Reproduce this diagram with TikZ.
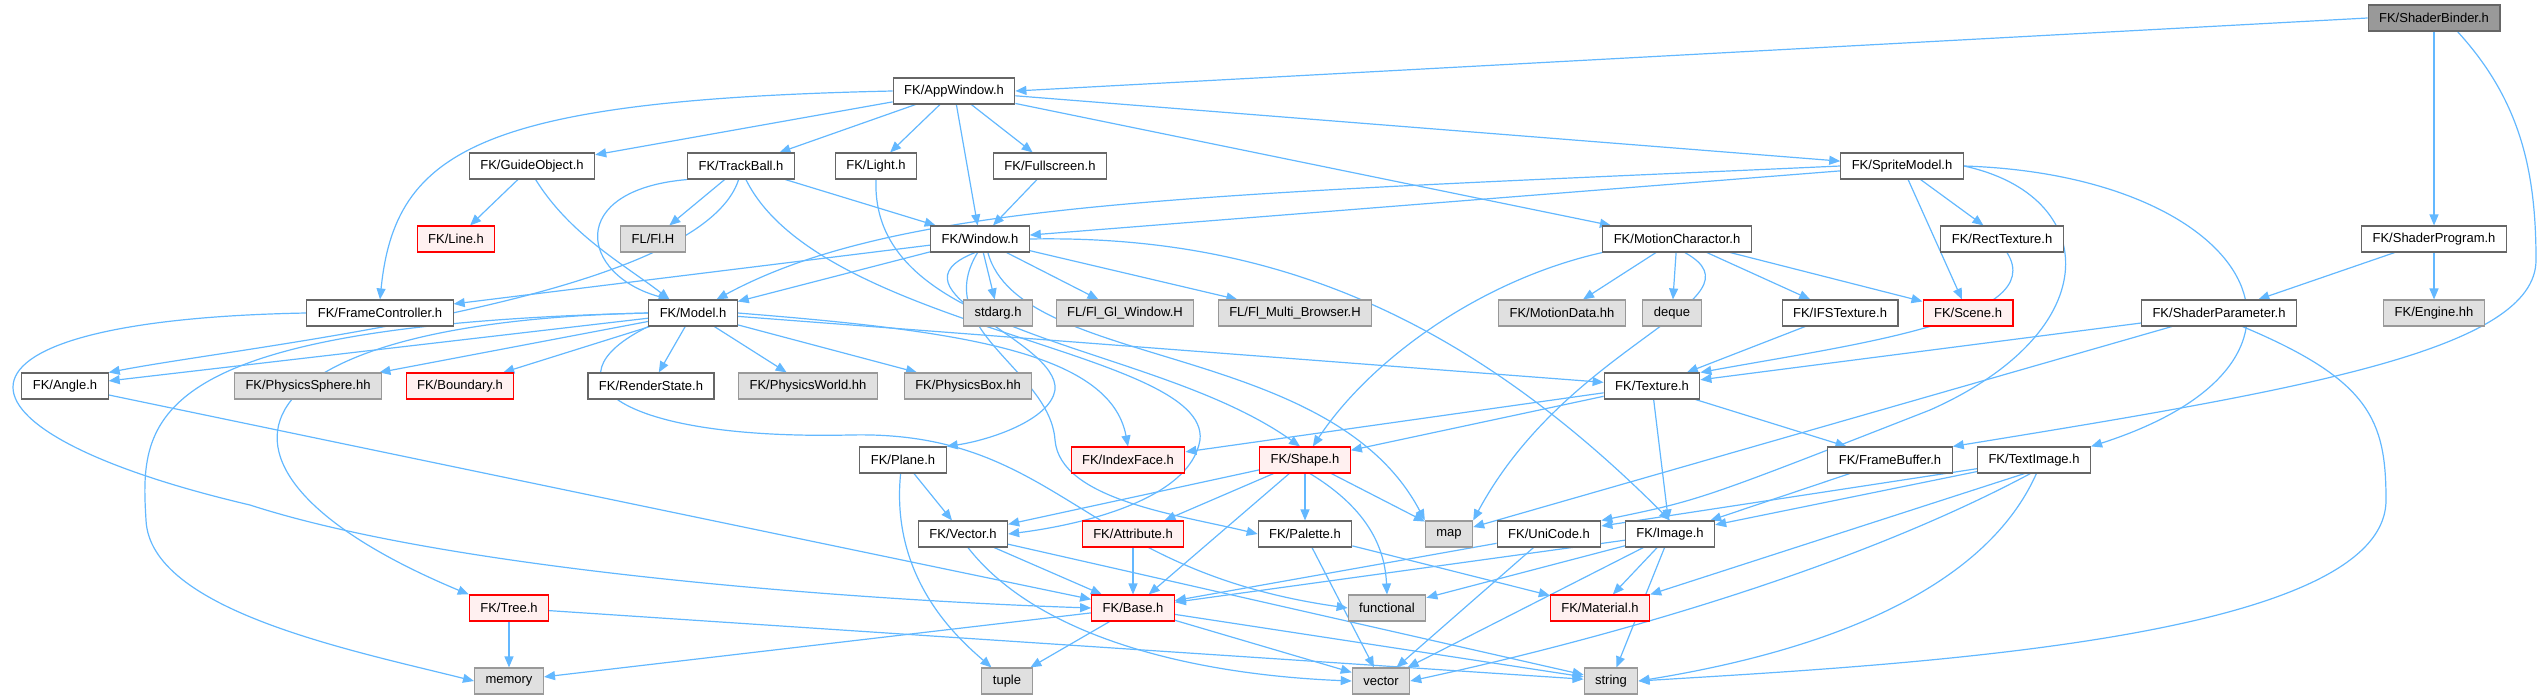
\documentclass[tikz,border=0pt]{standalone}
\usepackage{fontspec}
\setmainfont{Liberation Sans}
\usepackage{xcolor}
\usepackage{tikz}
\usetikzlibrary{arrows.meta}
\definecolor{edgeblue}{HTML}{63B8FF}
\definecolor{boxgrey}{HTML}{666666}
\definecolor{sysdraw}{HTML}{999999}
\definecolor{sysfill}{HTML}{E0E0E0}
\definecolor{nodocfill}{HTML}{FFF0F0}
\definecolor{rootfill}{HTML}{999999}
\pgfdeclarelayer{background}
\pgfsetlayers{background,main}
\begin{document}
\begin{tikzpicture}[x=1pt,y=-1pt]
\useasboundingbox (0,0) rectangle (2543,699);
\tikzstyle{every node}+=[inner xsep=11pt, inner ysep=0pt, minimum height=26pt, line width=1.1pt, font=\fontsize{13}{15}\selectfont]
\tikzstyle{file}=[draw=boxgrey, fill=white]
\tikzstyle{sysfile}=[draw=sysdraw, fill=sysfill]
\tikzstyle{nodoc}=[draw=red, fill=nodocfill]
\tikzstyle{rootfile}=[draw=boxgrey, fill=rootfill]
\tikzstyle{inc}=[draw=edgeblue, line width=1.2pt, -{Triangle[length=11pt,width=9pt]}]
% row 1 and 2
\node [rootfile] (root) at (2434,18) {FK/ShaderBinder.h};
\node [file] (appwin) at (954,91) {FK/AppWindow.h};
% row 3
\node [file] (guide) at (532,166) {FK/GuideObject.h};
\node [file] (track) at (741,166) {FK/TrackBall.h};
\node [file] (light) at (876,166) {FK/Light.h};
\node [file] (fullscr) at (1050,166) {FK/Fullscreen.h};
\node [file] (sprite) at (1902,166) {FK/SpriteModel.h};
% row 4
\node [nodoc] (line) at (456,239) {FK/Line.h};
\node [sysfile] (flh) at (653,239) {FL/Fl.H};
\node [file] (window) at (980,239) {FK/Window.h};
\node [file] (motion) at (1677,239) {FK/MotionCharactor.h};
\node [file] (recttex) at (2002,239) {FK/RectTexture.h};
\node [file] (shprog) at (2434,239) {FK/ShaderProgram.h};
% row 5
\node [file] (framectl) at (380,313) {FK/FrameController.h};
\node [file] (model) at (693,313) {FK/Model.h};
\node [sysfile] (stdarg) at (998,313) {stdarg.h};
\node [sysfile] (glwin) at (1125,313) {FL/Fl\_Gl\_Window.H};
\node [sysfile] (multibr) at (1295,313) {FL/Fl\_Multi\_Browser.H};
\node [sysfile] (motiondata) at (1562,313) {FK/MotionData.hh};
\node [sysfile] (deque) at (1672,313) {deque};
\node [file] (ifstex) at (1840,313) {FK/IFSTexture.h};
\node [nodoc] (scene) at (1968,313) {FK/Scene.h};
\node [file] (shparam) at (2219,313) {FK/ShaderParameter.h};
\node [sysfile] (engine) at (2434,313) {FK/Engine.hh};
% row 6
\node [file] (angle) at (65,386) {FK/Angle.h};
\node [sysfile] (physsphere) at (308,386) {FK/PhysicsSphere.hh};
\node [nodoc] (boundary) at (460,386) {FK/Boundary.h};
\node [file] (renderstate) at (651,386) {FK/RenderState.h};
\node [sysfile] (physworld) at (808,386) {FK/PhysicsWorld.hh};
\node [sysfile] (physbox) at (968,386) {FK/PhysicsBox.hh};
\node [file] (texture) at (1652,386) {FK/Texture.h};
% row 7
\node [file] (plane) at (903,460) {FK/Plane.h};
\node [nodoc] (indexface) at (1128,460) {FK/IndexFace.h};
\node [nodoc] (shape) at (1305,460) {FK/Shape.h};
\node [file] (framebuf) at (1890,460) {FK/FrameBuffer.h};
\node [file] (textimage) at (2034,460) {FK/TextImage.h};
% row 8
\node [file] (vector) at (963,534) {FK/Vector.h};
\node [nodoc] (attribute) at (1133,534) {FK/Attribute.h};
\node [file] (palette) at (1305,534) {FK/Palette.h};
\node [sysfile] (map) at (1449,534) {map};
\node [file] (unicode) at (1549,534) {FK/UniCode.h};
\node [file] (image) at (1670,534) {FK/Image.h};
% row 9
\node [nodoc] (tree) at (509,608) {FK/Tree.h};
\node [nodoc] (base) at (1133,608) {FK/Base.h};
\node [sysfile] (functional) at (1387,608) {functional};
\node [nodoc] (material) at (1600,608) {FK/Material.h};
% row 10
\node [sysfile] (memory) at (509,681) {memory};
\node [sysfile] (tuple) at (1007,681) {tuple};
\node [sysfile] (vectorstd) at (1381,681) {vector};
\node [sysfile] (string) at (1611,681) {string};
\begin{pgfonlayer}{background}
% ShaderBinder
\draw [inc] (root.west) -- (appwin.east);
\draw [inc] (root) -- (shprog);
\draw [inc] (root.-30) .. controls (2520,100) and (2536,170) .. (2536,260) .. controls (2536,350) and (2300,390) .. (framebuf.north east);
% AppWindow
\draw [inc] (appwin.west) .. controls (480,100) and (395,150) .. (framectl.north);
\draw [inc] (appwin) -- (guide);
\draw [inc] (appwin) -- (track);
\draw [inc] (appwin) -- (light);
\draw [inc] (appwin) -- (window);
\draw [inc] (appwin) -- (fullscr);
\draw [inc] (appwin) -- (motion);
\draw [inc] (appwin) -- (sprite);
% GuideObject, TrackBall, Light, Fullscreen
\draw [inc] (guide) -- (line);
\draw [inc] (guide.-75) .. controls (570,235) and (625,265) .. (model.150);
\draw [inc] (track) -- (flh);
\draw [inc] (track.south west) .. controls (565,190) and (580,275) .. (model.150);
\draw [inc] (track) -- (window);
\draw [inc] (track.-70) .. controls (820,330) and (1210,350) .. (1200,440) .. controls (1190,500) and (1080,525) .. (vector.east);
\draw [inc] (track.-100) .. controls (700,300) and (250,345) .. (angle.north east);
\draw [inc] (light.south) .. controls (870,340) and (1150,340) .. (shape.110);
\draw [inc] (fullscr) -- (window);
% Window
\draw [inc] (window) -- (framectl);
\draw [inc] (window) -- (model);
\draw [inc] (window) -- (stdarg);
\draw [inc] (window) -- (glwin);
\draw [inc] (window) -- (multibr);
\draw [inc] (window.east) .. controls (1250,235) and (1450,300) .. (image.north);
\draw [inc] (window.-110) .. controls (880,290) and (1060,340) .. (1055,390) .. controls (1050,420) and (990,440) .. (plane.north east);
\draw [inc] (window.-100) .. controls (930,330) and (1050,370) .. (1055,440) .. controls (1060,500) and (1180,515) .. (palette.west);
\draw [inc] (window.-60) .. controls (1020,370) and (1330,340) .. (map.north west);
% Model
\draw [inc] (model) -- (angle);
\draw [inc] (model) -- (physsphere);
\draw [inc] (model) -- (boundary);
\draw [inc] (model) -- (renderstate);
\draw [inc] (model) -- (physworld);
\draw [inc] (model) -- (physbox);
\draw [inc] (model) -- (texture);
\draw [inc] (model.east) .. controls (950,330) and (1110,350) .. (indexface.north);
\draw [inc] (model.south west) .. controls (540,380) and (620,440) .. (850,435) .. controls (1060,430) and (1080,570) .. (functional.west);
\draw [inc] (model.west) .. controls (220,322) and (170,470) .. (tree.north west);
\draw [inc] (model.west) .. controls (140,325) and (140,420) .. (146,520) .. controls (150,610) and (350,650) .. (memory.west);
% FrameController, Angle
\draw [inc] (framectl.west) .. controls (-80,320) and (-70,430) .. (250,505) .. controls (450,570) and (850,600) .. (base.west);
\draw [inc] (angle) -- (base);
% SpriteModel
\draw [inc] (sprite) -- (window);
\draw [inc] (sprite.west) .. controls (1200,195) and (900,200) .. (model.30);
\draw [inc] (sprite) -- (recttex);
\draw [inc] (sprite) -- (scene);
\draw [inc] (sprite.east) .. controls (2100,195) and (2110,330) .. (1930,410) .. controls (1700,500) .. (unicode.north east);
\draw [inc] (sprite.east) .. controls (2250,175) and (2360,360) .. (textimage.north east);
% MotionCharactor
\draw [inc] (motion.south west) .. controls (1480,280) and (1370,360) .. (shape.60);
\draw [inc] (motion) -- (motiondata);
\draw [inc] (motion) -- (deque);
\draw [inc] (motion.-60) .. controls (1770,300) and (1570,340) .. (map.north east);
\draw [inc] (motion) -- (ifstex);
\draw [inc] (motion) -- (scene);
% textures and shaders
\draw [inc] (recttex.-70) .. controls (2050,320) and (1850,345) .. (texture.north east);
\draw [inc] (ifstex) -- (texture);
\draw [inc] (shparam) -- (texture);
\draw [inc] (shparam) -- (map);
\draw [inc] (shparam.-30) .. controls (2370,380) and (2386,420) .. (2386,500) .. controls (2386,640) and (1900,665) .. (string.east);
\draw [inc] (shprog) -- (shparam);
\draw [inc] (shprog) -- (engine);
\draw [inc] (texture) -- (indexface);
\draw [inc] (texture) -- (shape);
\draw [inc] (texture) -- (image);
\draw [inc] (texture) -- (framebuf);
\draw [inc] (framebuf) -- (image);
% TextImage
\draw [inc] (textimage) -- (image);
\draw [inc] (textimage) -- (unicode);
\draw [inc] (textimage.-125) -- (material.north east);
\draw [inc] (textimage.-105) .. controls (1850,570) and (1600,640) .. (vectorstd.east);
\draw [inc] (textimage.-80) .. controls (1980,600) and (1800,655) .. (string.east);
% Shape
\draw [inc] (shape) -- (vector);
\draw [inc] (shape) -- (attribute);
\draw [inc] (shape) -- (base);
\draw [inc] (shape) -- (palette);
\draw [inc] (shape) -- (map);
\draw [inc] (shape.-70) .. controls (1370,510) and (1385,550) .. (functional.north);
% lower rows
\draw [inc] (plane) -- (vector);
\draw [inc] (plane.-100) .. controls (890,580) and (960,640) .. (tuple);
\draw [inc] (vector) -- (base);
\draw [inc] (vector.-70) .. controls (1040,640) and (1200,675) .. (vectorstd.west);
\draw [inc] (vector) -- (string);
\draw [inc] (attribute) -- (base);
\draw [inc] (palette) -- (vectorstd);
\draw [inc] (palette) -- (material);
\draw [inc] (unicode) -- (base);
\draw [inc] (unicode) -- (vectorstd);
\draw [inc] (image) -- (base);
\draw [inc] (image) -- (functional);
\draw [inc] (image) -- (material);
\draw [inc] (image) -- (vectorstd);
\draw [inc] (image) -- (string);
\draw [inc] (base) -- (memory);
\draw [inc] (base) -- (tuple);
\draw [inc] (base) -- (vectorstd);
\draw [inc] (base) -- (string);
\draw [inc] (tree) -- (memory);
\draw [inc] (tree) -- (string);
\end{pgfonlayer}
\end{tikzpicture}
\end{document}
